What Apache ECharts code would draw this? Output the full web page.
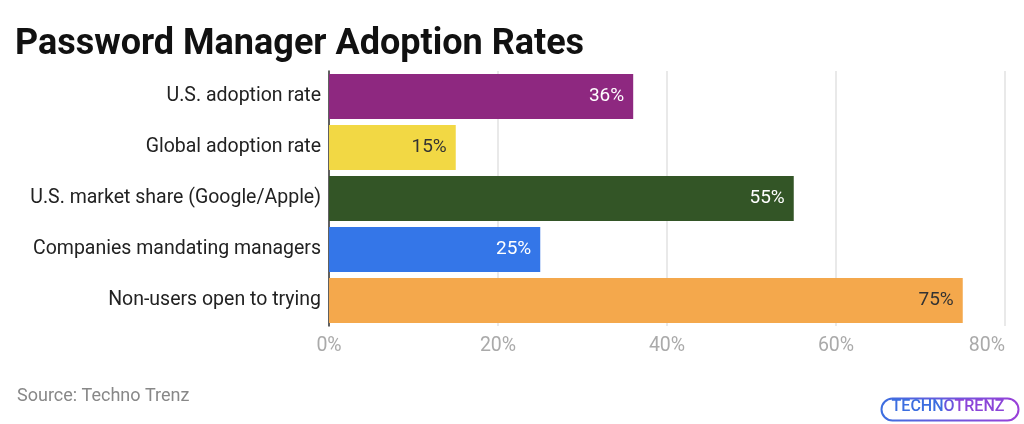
<!DOCTYPE html>
<html>
<head>
<meta charset="utf-8">
<style>
  html, body { margin: 0; padding: 0; background: #fff; }
  #chart { width: 1024px; height: 424px; }
</style>
<script src="https://cdn.jsdelivr.net/npm/echarts@6/dist/echarts.min.js"></script>
</head>
<body>
<div id="chart"></div>
<script>
  // chart data
  const categories = ['U.S. adoption rate', 'Global adoption rate', 'U.S. market share (Google/Apple)', 'Companies mandating managers', 'Non-users open to trying']
  const values = [36, 15, 55, 25, 75]
  const barColors = ['#8e2880', '#f2d844', '#335526', '#3476e8', '#f4a84c']
  const labelColors = ['#fff', '#333', '#fff', '#fff', '#333']
  const xTicks = [0, 20, 40, 60, 80]

  const font = 'Roboto, "Noto Sans", sans-serif'
  let chart = echarts.init(document.getElementById('chart'))
  chart.setOption({
    animation: false,
    title: {
      text: 'Password Manager Adoption Rates',
      left: 10,
      top: 22,
      textStyle: { fontFamily: font, fontWeight: 'bold', fontSize: 36, color: '#111' }
    },
    grid: {
      left: 329,
      right: 19,
      top: 71,
      bottom: 98
    },
    xAxis: {
      type: 'value',
      min: xTicks[0],
      max: xTicks[xTicks.length - 1],
      interval: 20,
      axisLine: { show: false },
      axisTick: { show: false },
      splitLine: { lineStyle: { color: '#e2e2e2', width: 1.5 } },
      axisLabel: {
        margin: 10,
        fontFamily: font,
        fontSize: 19.5,
        color: '#aaaaaa',
        alignMaxLabel: 'right',
        formatter: v => v + '%'
      }
    },
    yAxis: {
      type: 'category',
      inverse: true,
      data: categories,
      axisLine: { lineStyle: { color: '#333', width: 1.5 } },
      axisTick: { show: false },
      axisLabel: { margin: 8, fontFamily: font, fontSize: 19.5, color: '#222' }
    },
    series: [{
      type: 'bar',
      barCategoryGap: '12%',
      data: values.map((v, i) => ({
        value: v,
        itemStyle: { color: barColors[i] },
        label: { color: labelColors[i] }
      })),
      label: {
        show: true,
        position: 'insideRight',
        distance: 9,
        fontFamily: font,
        fontSize: 19,
        formatter: p => p.value + '%'
      }
    }],
    graphic: [
      {
        type: 'text',
        left: 17,
        top: 387,
        style: { text: 'Source: Techno Trenz', font: '18px ' + font, fill: '#888' }
      },
      {
        type: 'rect',
        left: 879,
        top: 396,
        shape: { width: 137, height: 22, r: 11 },
        style: {
          fill: 'none',
          lineWidth: 2,
          stroke: new echarts.graphic.LinearGradient(0, 0, 1, 0, [
            { offset: 0, color: '#3b6fe0' },
            { offset: 1, color: '#9b3fd8' }
          ])
        }
      },
      {
        type: 'text',
        x: 948,
        y: 407,
        style: {
          text: '{a|TECHN}{b|O}{c|TRENZ}',
          align: 'center',
          verticalAlign: 'middle',
          rich: {
            a: { font: '500 16px ' + font, fill: '#3c6ee0', color: '#3c6ee0' },
            b: { font: '500 16px ' + font, fill: '#6a55dc', color: '#6a55dc' },
            c: { font: '500 16px ' + font, fill: '#8c45d8', color: '#8c45d8' }
          }
        }
      }
    ]
  })
</script>
</body>
</html>
